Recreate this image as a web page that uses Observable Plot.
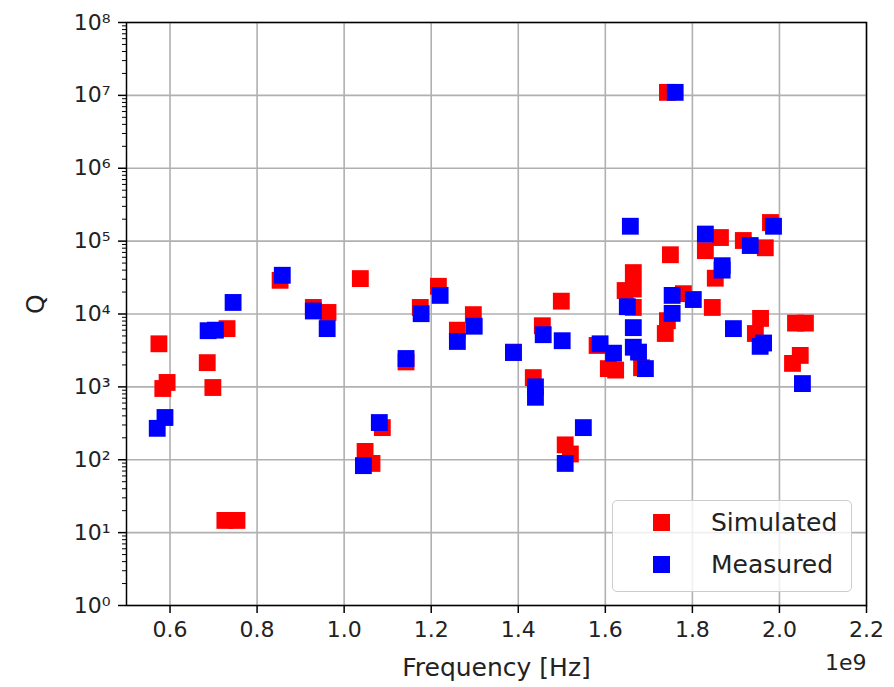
<!DOCTYPE html>
<html>
<head>
<meta charset="utf-8">
<script src="https://cdn.jsdelivr.net/npm/d3@7"></script>
<script src="https://cdn.jsdelivr.net/npm/@observablehq/plot@0.6"></script>
<style>
  body { margin: 0; background: #fff; font-family: "DejaVu Sans", sans-serif; }
  #wrap { position: relative; width: 894px; height: 687px; }
  #legend { position: absolute; left: 612px; top: 500px; width: 240px; height: 92px;
    box-sizing: border-box; border: 1px solid #cccccc; border-radius: 5px;
    background: rgba(255,255,255,0.8); font-size: 25px; color: #222; }
  .item { position: absolute; left: 0; display: flex; align-items: center; }
  .sw { width: 17px; height: 17px; margin-left: 40px; margin-right: 41px; }
</style>
</head>
<body>
<div id="wrap"><div id="chart"></div>
<div id="legend">
  <div class="item" style="top:7px;"><div class="sw" style="background:#ff0000"></div><span>Simulated</span></div>
  <div class="item" style="top:49px;"><div class="sw" style="background:#0000ff"></div><span>Measured</span></div>
</div>
</div>
<script>
// Frequency in units of 1e9 Hz
const simFreq = [0.5745,0.5834,0.5933,0.6855,0.6984,0.731,0.726,0.7538,0.8529,0.9292,0.9629,1.0372,1.0481,1.064,1.0877,1.1422,1.1749,1.2165,1.2601,1.2968,1.3889,1.4345,1.4553,1.4989,1.5078,1.5197,1.5811,1.6069,1.6237,1.6832,1.6455,1.6643,1.6643,1.6643,1.7426,1.7495,1.7426,1.7377,1.8298,1.8645,1.8526,1.8457,1.917,1.9675,1.9794,1.9566,1.9447,2.0369,2.0597,2.0478,2.03,1.7793];
const simQ    = [3900,950,1150,2150,980,6300,14.7,14.7,29000,12300,10500,30600,130,89,276,2200,12300,24000,6000,9800,3000,1340,6900,15000,160,120,3700,1780,1700,1830,21000,22000,37000,12300,1.1e7,65000,8100,5400,74000,112000,31000,12300,102000,81000,180000,8700,5400,7500,7500,2700,2100,19000];

const meaFreq = [0.5706,0.5884,0.6875,0.7043,0.7449,0.8579,0.9292,0.961,1.0442,1.0808,1.1422,1.1769,1.2205,1.2601,1.2988,1.3889,1.4395,1.4395,1.4573,1.5009,1.5078,1.5495,1.588,1.6188,1.6505,1.6575,1.6643,1.6643,1.6763,1.6921,1.7535,1.7535,1.7605,1.8021,1.8298,1.8684,1.8684,1.8943,1.9329,1.9636,1.9557,1.9864,2.0528];
const meaQ    = [270,380,5900,6000,14400,34000,11000,6300,83,324,2450,10100,18000,4200,6800,2960,1000,720,5200,4300,89,276,3900,2900,12600,160000,6500,3500,3000,1780,18000,10200,1.1e7,15800,125000,46000,40000,6300,87000,4000,3600,160000,1110];

const xTicks = [0.6,0.8,1.0,1.2,1.4,1.6,1.8,2.0,2.2];
const yTicks = [1,10,100,1e3,1e4,1e5,1e6,1e7,1e8];
const supers = {"0":"⁰","1":"¹","2":"²","3":"³","4":"⁴","5":"⁵","6":"⁶","7":"⁷","8":"⁸","9":"⁹"};

const sim = simFreq.map((f,i) => ({f, q: simQ[i]}));
const mea = meaFreq.map((f,i) => ({f, q: meaQ[i]}));
const minorY = [];
for (let e = 0; e < 8; e++) for (let k = 2; k <= 9; k++) minorY.push(k * 10 ** e);

const fmtY = d => "10" + String(Math.round(Math.log10(d))).split("").map(c => supers[c]).join("");

const chart = Plot.plot({
  width: 894, height: 687,
  marginLeft: 126, marginRight: 28, marginTop: 22, marginBottom: 82,
  style: {fontFamily: "DejaVu Sans", fontSize: "22px", color: "#222", background: "#fff"},
  x: {domain: [0.5, 2.2]},
  y: {type: "log", domain: [1, 1e8]},
  marks: [
    Plot.gridX(xTicks, {stroke: "#b0b0b0", strokeOpacity: 1, strokeWidth: 1.6}),
    Plot.gridY(yTicks, {stroke: "#b0b0b0", strokeOpacity: 1, strokeWidth: 1.6}),
    Plot.axisX({ticks: xTicks, tickFormat: d => d.toFixed(1), tickSize: 8, tickPadding: 8,
      stroke: "#000", strokeWidth: 1.5, label: null}),
    Plot.axisY({ticks: yTicks, tickFormat: fmtY, tickSize: 8, tickPadding: 8,
      stroke: "#000", strokeWidth: 1.5, label: null}),
    Plot.axisY({ticks: minorY, tickFormat: null, tickSize: 4, stroke: "#000", strokeWidth: 1, label: null}),
    Plot.dot(sim, {x: "f", y: "q", symbol: "square", r: 9.5, fill: "#ff0000", stroke: "none"}),
    Plot.dot(mea, {x: "f", y: "q", symbol: "square", r: 9.5, fill: "#0000ff", stroke: "none"}),
    Plot.frame({stroke: "#000", strokeWidth: 1.5}),
    Plot.text(["Frequency [Hz]"], {frameAnchor: "bottom", dy: 70, fontSize: 25, fill: "#222"}),
    Plot.text(["Q"], {frameAnchor: "left", dx: -91, rotate: -90, fontSize: 25, fill: "#222"}),
    Plot.text(["1e9"], {frameAnchor: "bottom-right", dy: 64, dx: 0, fontSize: 22, fill: "#222", textAnchor: "end"})
  ]
});
document.getElementById("chart").appendChild(chart);
</script>
</body>
</html>
